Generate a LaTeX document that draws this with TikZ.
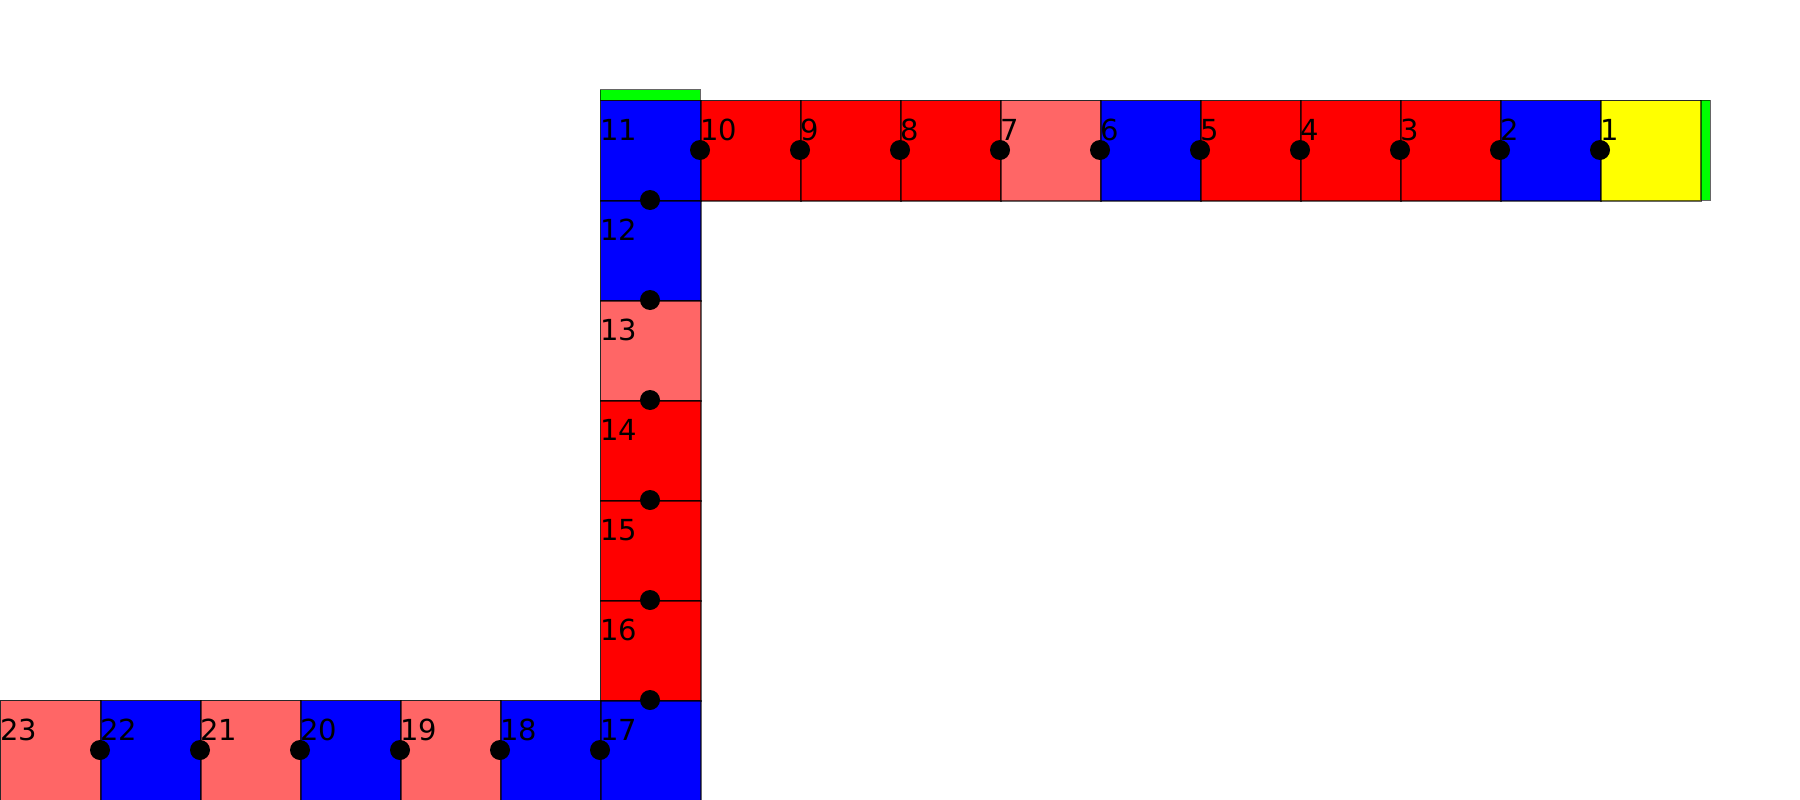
\documentclass[tikz,border=0pt]{standalone}
\usepackage{fontspec}
\setmainfont{DejaVu Sans}
\definecolor{cred}{HTML}{FF0000}
\definecolor{cblue}{HTML}{0000FF}
\definecolor{clred}{HTML}{FF6666}
\definecolor{cyellow}{HTML}{FFFF00}
\definecolor{cgreen}{HTML}{00FF00}
\begin{document}
\begin{tikzpicture}[x=1pt,y=-1pt,
  cell/.style={rectangle, draw=black, draw opacity=0.6, line width=1pt, minimum size=100pt, inner sep=0pt, anchor=north west},
  num/.style={anchor=base west, inner sep=0pt, font=\fontsize{29}{29}\selectfont},
  dotmark/.style={circle, fill=black, minimum size=20pt, inner sep=0pt},
  strip/.style={draw=black, draw opacity=0.6, line width=1pt, fill=cgreen}]
\useasboundingbox (0,0) rectangle (1800,800);
% green strips
\draw[strip] (1700,100) rectangle (1710,200);
\draw[strip] (600,90) rectangle (700,100);
% cells
\foreach \n/\x/\y/\c in {1/1600/100/cyellow, 2/1500/100/cblue, 3/1400/100/cred, 4/1300/100/cred,
  5/1200/100/cred, 6/1100/100/cblue, 7/1000/100/clred, 8/900/100/cred, 9/800/100/cred,
  10/700/100/cred, 11/600/100/cblue, 12/600/200/cblue, 13/600/300/clred, 14/600/400/cred,
  15/600/500/cred, 16/600/600/cred, 17/600/700/cblue, 18/500/700/cblue, 19/400/700/clred,
  20/300/700/cblue, 21/200/700/clred, 22/100/700/cblue, 23/0/700/clred}{
  \node[cell, fill=\c] (c\n) at (\x,\y) {};
}
% redraw borders so shared edges overlap like the reference
\foreach \n in {1,...,23}{
  \draw[draw=black, draw opacity=0.6, line width=1pt] (c\n.north west) rectangle (c\n.south east);
}
% labels
\foreach \n/\x/\y in {1/1600/100, 2/1500/100, 3/1400/100, 4/1300/100, 5/1200/100, 6/1100/100,
  7/1000/100, 8/900/100, 9/800/100, 10/700/100, 11/600/100, 12/600/200, 13/600/300,
  14/600/400, 15/600/500, 16/600/600, 17/600/700, 18/500/700, 19/400/700, 20/300/700,
  21/200/700, 22/100/700, 23/0/700}{
  \node[num] (l\n) at (\x,\y+40) {\n};
}
% dots
\foreach \n/\x/\y in {1/1600/150, 2/1500/150, 3/1400/150, 4/1300/150, 5/1200/150,
  6/1100/150, 7/1000/150, 8/900/150, 9/800/150, 10/700/150,
  11/650/200, 12/650/300, 13/650/400, 14/650/500, 15/650/600, 16/650/700,
  17/600/750, 18/500/750, 19/400/750, 20/300/750, 21/200/750, 22/100/750}{
  \node[dotmark] (d\n) at (\x,\y) {};
}
\end{tikzpicture}
\end{document}
